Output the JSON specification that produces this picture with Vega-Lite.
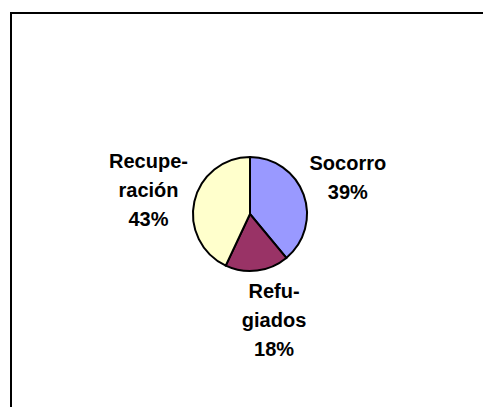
{
  "$schema": "https://vega.github.io/schema/vega-lite/v6.json",
  "width": 478,
  "height": 402,
  "autosize": "none",
  "padding": {"left": 11, "top": 13, "right": -6, "bottom": -8},
  "background": "white",
  "view": {"stroke": "black", "strokeWidth": 2, "fill": "white"},
  "config": {"view": {"stroke": "black", "strokeWidth": 2}},
  "data": {
    "values": [
      {"slice": "Socorro", "name": "Socorro", "pct": 39, "order": 1},
      {"slice": "Refugiados", "name": "Refu-\ngiados", "pct": 18, "order": 2},
      {"slice": "Recuperación", "name": "Recupe-\nración", "pct": 43, "order": 3}
    ]
  },
  "transform": [
    {"stack": "pct", "groupby": [], "sort": [{"field": "order", "order": "ascending"}], "as": ["t0", "t1"]},
    {"calculate": "(datum.t0 + datum.t1) / 2", "as": "mid"},
    {"calculate": "datum.name + '\\n' + datum.pct + '%'", "as": "label"}
  ],
  "layer": [
    {
      "mark": {"type": "arc", "outerRadius": 57, "stroke": "black", "strokeWidth": 2},
      "encoding": {
        "theta": {"field": "t0", "type": "quantitative", "scale": {"domain": [0, 100]}},
        "theta2": {"field": "t1"},
        "color": {
          "field": "slice",
          "type": "nominal",
          "scale": {
            "domain": ["Socorro", "Refugiados", "Recuperación"],
            "range": ["#9999FF", "#993366", "#FFFFCC"]
          },
          "legend": null
        }
      }
    },
    {
      "transform": [{"filter": "datum.slice == 'Recuperación'"}],
      "mark": {
        "type": "text",
        "radius": 104,
        "dy": -29,
        "font": "Liberation Sans",
        "fontWeight": "bold",
        "fontSize": 20,
        "lineBreak": "\n",
        "lineHeight": 29,
        "align": "center",
        "baseline": "middle",
        "color": "black"
      },
      "encoding": {
        "theta": {"field": "mid", "type": "quantitative", "scale": {"domain": [0, 100]}},
        "text": {"field": "label", "type": "nominal"}
      }
    },
    {
      "transform": [{"filter": "datum.slice == 'Refugiados'"}],
      "mark": {
        "type": "text",
        "radius": 104,
        "dx": 11,
        "dy": -25,
        "font": "Liberation Sans",
        "fontWeight": "bold",
        "fontSize": 20,
        "lineBreak": "\n",
        "lineHeight": 29,
        "align": "center",
        "baseline": "middle",
        "color": "black"
      },
      "encoding": {
        "theta": {"field": "mid", "type": "quantitative", "scale": {"domain": [0, 100]}},
        "text": {"field": "label", "type": "nominal"}
      }
    },
    {
      "transform": [{"filter": "datum.slice == 'Socorro'"}],
      "mark": {
        "type": "text",
        "radius": 104,
        "dy": -14.5,
        "font": "Liberation Sans",
        "fontWeight": "bold",
        "fontSize": 20,
        "lineBreak": "\n",
        "lineHeight": 29,
        "align": "center",
        "baseline": "middle",
        "color": "black"
      },
      "encoding": {
        "theta": {"field": "mid", "type": "quantitative", "scale": {"domain": [0, 100]}},
        "text": {"field": "label", "type": "nominal"}
      }
    }
  ]
}
